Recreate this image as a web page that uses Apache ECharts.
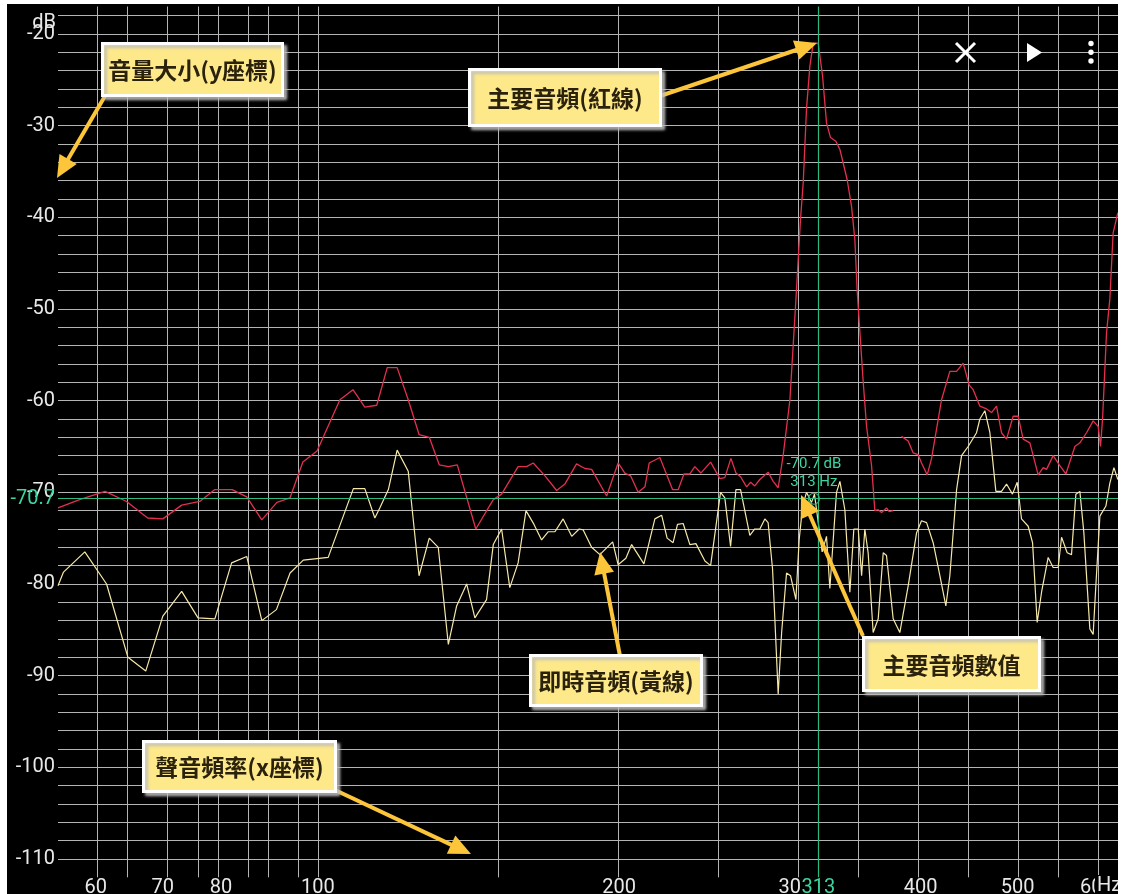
<!DOCTYPE html>
<html>
<head>
<meta charset="utf-8">
<title>頻譜</title>
<script src="https://cdn.jsdelivr.net/npm/echarts@6/dist/echarts.min.js"></script>
<style>
  html, body { margin: 0; padding: 0; background: #fff; }
  #chart { position: absolute; left: 7px; top: 4px; width: 1111px; height: 890px; background: #000; overflow: hidden; }
</style>
</head>
<body>
<div id="chart"></div>
<script>
// 主要音頻(紅線): Hz / dB, null = 斷線
const redHz = [55.0, 57.8, 61.3, 64.4, 67.6, 70.0, 73.1, 76.2, 78.9, 82.1,
  84.9, 87.9, 91.0, 93.8, 96.6, 99.8, 105.2, 108.4, 111.4, 114.5,
  117.3, 120.0, 123.1, 126.2, 129.2, 132.2, 135.0, 137.8, 143.8, 149.7,
  152.6, 158.5, 161.6, 164.1, 168.6, 173.2, 176.5, 181.3, 184.8, 187.7,
  194.3, 199.5, 202.6, 205.3, 208.9, 212.2, 214.3, 219.6, 226.1, 229.1,
  232.1, 235.3, 238.0, 241.3, 246.8, 252.1, 255.0, 258.6, 261.6, 264.4,
  268.1, 270.6, 273.2, 276.4, 281.7, 285.0, 288.3, 291.6, 296.2, 300.3,
  303.5, 305.4, 307.7, 310.1, 312.5, 316.1, 319.3, 322.2, 325.2, 329.2,
  332.3, 337.9, 341.3, 343.9, 345.7, 350.6, 353.3, 357.4, 360.1, 362.9,
  365.7, 369.9, 372.2, 375.6, 379.0,
  382.9, 388.8, 393.3, 397.8, 400.9, 406.2, 410.3, 415.0, 419.8, 427.9,
  434.6, 441.2, 447.4, 451.5, 458.5, 465.6, 471.0, 476.4, 481.9, 487.5,
  495.0, 500.7, 506.5, 514.4, 524.3, 530.4, 534.5, 542.7, 551.1, 558.8,
  570.5, 577.1, 586.0, 595.0, 601.9, 605.2, 608.0, 613.6, 618.3, 623.0,
  629.8];
const redDb = [-71.7, -70.8, -69.9, -71.0, -72.8, -72.9, -71.4, -71.0, -69.7, -69.7,
  -70.5, -73.0, -71.1, -70.6, -66.7, -65.5, -59.9, -58.8, -60.7, -60.5,
  -56.4, -56.4, -59.9, -63.7, -64.0, -67.0, -67.2, -67.0, -74.0, -70.8,
  -70.2, -67.2, -67.2, -66.8, -68.2, -69.8, -69.1, -66.9, -67.4, -67.5,
  -70.4, -66.8, -67.9, -68.2, -70.0, -69.4, -66.8, -66.2, -69.7, -69.7,
  -68.0, -68.0, -67.2, -67.9, -66.7, -68.5, -68.4, -66.3, -67.9, -68.3,
  -69.4, -68.9, -69.3, -68.6, -67.8, -68.8, -69.5, -66.0, -59.9, -49.0,
  -40.2, -36.2, -28.2, -23.5, -21.0, -21.0, -24.6, -29.7, -31.3, -31.7,
  -32.6, -35.9, -38.8, -42.4, -47.9, -58.0, -62.8, -67.1, -72.0, -71.9,
  -72.2, -71.7, -72.1, -72.0, null,
  -63.9, -64.4, -65.7, -65.9, -66.8, -68.1, -66.3, -63.1, -59.9, -56.8,
  -56.8, -55.9, -58.3, -58.8, -60.6, -60.9, -61.3, -60.6, -63.5, -64.2,
  -61.7, -61.7, -64.2, -64.6, -68.1, -67.3, -67.5, -66.0, -67.1, -68.0,
  -65.0, -64.6, -63.5, -62.2, -62.8, -65.0, -62.0, -52.6, -48.9, -41.7,
  -39.5];

// 即時音頻(黃線)
const liveHz = [55.0, 55.7, 58.5, 61.5, 64.6, 67.3, 70.0, 73.1, 75.9, 78.9,
  82.0, 84.9, 87.9, 90.9, 93.8, 96.7, 102.4, 108.5, 111.4, 114.0,
  115.3, 117.6, 120.0, 123.1, 126.2, 129.2, 131.9, 135.0, 137.6, 140.8,
  143.5, 147.4, 149.7, 152.6, 155.5, 158.5, 161.4, 164.4, 167.3, 169.9,
  172.5, 175.8, 179.3, 182.4, 184.1, 187.7, 191.3, 197.0, 199.5, 203.1,
  205.8, 211.7, 217.1, 220.5, 223.3, 226.4, 228.7, 231.7, 235.3, 238.6,
  243.6, 246.8, 252.5, 255.0, 258.4, 261.6, 264.4, 270.1, 273.2, 276.4,
  279.6, 281.7, 284.6, 286.1, 288.3, 290.6, 293.9, 296.6, 300.3, 302.6,
  305.0, 307.7, 311.3, 313.4, 319.0, 322.2, 324.7, 329.7, 332.3, 336.1,
  340.0, 343.1, 346.6, 349.3, 351.9, 354.6, 358.7, 362.9, 367.1, 369.9,
  375.6, 381.4, 388.8, 396.4, 400.9, 405.6, 411.8, 418.2, 424.0, 427.9,
  434.6, 439.6, 446.3, 455.0, 458.5, 463.8, 469.2, 475.7, 481.9, 487.5,
  494.2, 499.6, 504.6, 512.4, 517.6, 523.1, 528.4, 536.5, 542.7, 549.0,
  553.3, 560.5, 566.1, 571.8, 577.1, 582.4, 590.5, 595.0, 598.7, 604.3,
  612.7, 618.3, 624.1, 629.8];
const liveDb = [-80.2, -78.7, -76.5, -80.0, -88.0, -89.5, -83.5, -80.8, -83.7, -83.8,
  -77.7, -77.0, -84.0, -82.8, -78.8, -77.4, -77.1, -69.6, -69.6, -72.8,
  -71.7, -69.7, -65.4, -67.7, -79.1, -75.0, -76.0, -86.6, -82.4, -80.0,
  -83.7, -81.7, -75.7, -74.0, -80.4, -77.7, -72.0, -73.5, -75.2, -74.3,
  -74.3, -72.9, -74.8, -74.0, -74.1, -76.0, -76.8, -75.4, -77.9, -77.2,
  -75.7, -77.8, -72.9, -72.5, -75.0, -75.5, -73.5, -73.4, -75.7, -75.6,
  -77.5, -78.0, -70.0, -70.6, -75.9, -69.7, -69.7, -74.7, -74.0, -74.0,
  -72.9, -73.3, -78.4, -83.8, -92.0, -85.3, -78.8, -79.1, -81.7, -75.1,
  -71.5, -70.0, -71.1, -70.2, -76.5, -74.8, -80.5, -70.0, -68.8, -71.9,
  -80.9, -74.0, -74.0, -79.1, -74.0, -76.6, -85.3, -83.8, -76.6, -76.9,
  -83.8, -85.3, -80.2, -74.4, -73.1, -73.3, -75.5, -79.1, -82.4, -79.1,
  -69.7, -66.0, -65.0, -63.5, -62.0, -61.1, -63.5, -69.9, -69.9, -69.1,
  -70.2, -68.9, -72.9, -73.7, -75.5, -84.2, -80.9, -77.1, -78.2, -78.2,
  -74.9, -76.6, -76.8, -70.2, -69.9, -74.4, -84.9, -85.5, -80.2, -72.6,
  -71.5, -69.0, -67.3, -68.6];

const gridHz = [60, 65, 70, 75, 80, 85, 90, 95, 100, 150, 200, 250, 300, 350, 400, 450, 500, 550, 600];
const labelHz = [60, 70, 80, 100, 200, 300, 400, 500, 600];
const hzMin = 55, hzMax = 630;
const dbMin = -112, dbMax = -17;
const cursorHz = 313;
const cursorDb = -70.7;

const GREEN_LINE = '#2fb980';
const GREEN_TEXT = '#3ad7a2';
const ARROW = '#fcc53a';
const AXIS_TEXT = '#e8e8e8';

const chart = echarts.init(document.getElementById('chart'));

const pairs = (hz, db) => hz.map((f, i) => [Math.log10(f), db[i]]);

// 註解 (頁面座標)
const notes = [
  {text: '音量大小(y座標)', box: [101, 42, 183, 55], from: [105, 96], to: [57, 178]},
  {text: '主要音頻(紅線)', box: [468, 68, 194, 59], from: [660, 96], to: [817, 43]},
  {text: '即時音頻(黃線)', box: [529, 654, 174, 53], from: [620, 656], to: [600, 552]},
  {text: '主要音頻數值', box: [862, 636, 179, 56], from: [863, 636], to: [801, 495]},
  {text: '聲音頻率(x座標)', box: [142, 740, 195, 53], from: [335, 790], to: [471, 854]},
];

function arrow(p, q) {
  const dx = q[0] - p[0], dy = q[1] - p[1];
  const len = Math.hypot(dx, dy);
  const ux = dx / len, uy = dy / len;
  const bx = q[0] - ux * 22, by = q[1] - uy * 22;
  return [
    {type: 'line', z: 90, shape: {x1: p[0], y1: p[1], x2: bx + ux * 4, y2: by + uy * 4},
      style: {stroke: ARROW, lineWidth: 4}},
    {type: 'polygon', z: 90, shape: {points: [[q[0], q[1]], [bx - uy * 10, by + ux * 10], [bx + uy * 10, by - ux * 10]]},
      style: {fill: ARROW}},
  ];
}

const noteEls = [];
notes.forEach(n => {
  noteEls.push(...arrow(n.from, n.to));
  const [x, y, w, h] = n.box;
  noteEls.push({
    type: 'rect', z: 100,
    shape: {x: x + 1.5, y: y + 1.5, width: w - 3, height: h - 3},
    style: {fill: '#fde88a', stroke: '#fff', lineWidth: 3,
      shadowBlur: 3, shadowOffsetX: 3, shadowOffsetY: 3, shadowColor: 'rgba(190,190,190,0.9)'},
  });
  noteEls.push({
    type: 'text', z: 101, x: x + w / 2, y: y + h / 2 + 1,
    style: {text: n.text, fill: '#2a220c', fontSize: 23, fontWeight: 'bold',
      fontFamily: '"Noto Sans CJK TC"', align: 'center', verticalAlign: 'middle'},
  });
});

// 右上角圖示 + x 軸單位
const iconEls = [
  {type: 'line', z: 100, shape: {x1: 956, y1: 43, x2: 975, y2: 62}, style: {stroke: '#fff', lineWidth: 3}},
  {type: 'line', z: 100, shape: {x1: 975, y1: 43, x2: 956, y2: 62}, style: {stroke: '#fff', lineWidth: 3}},
  {type: 'polygon', z: 100, shape: {points: [[1027, 43], [1027, 62], [1042, 52.5]]}, style: {fill: '#fff'}},
  {type: 'circle', z: 100, shape: {cx: 1091, cy: 43.5, r: 2.7}, style: {fill: '#fff'}},
  {type: 'circle', z: 100, shape: {cx: 1091, cy: 52.3, r: 2.7}, style: {fill: '#fff'}},
  {type: 'circle', z: 100, shape: {cx: 1091, cy: 61, r: 2.7}, style: {fill: '#fff'}},
  {type: 'text', z: 50, x: 1095, y: 875,
    style: {text: 'Hz', fill: AXIS_TEXT, fontSize: 20, fontFamily: 'Roboto', verticalAlign: 'top',
      backgroundColor: '#000', padding: [1, 4, 2, 2]}},
];

chart.setOption({
  animation: false,
  backgroundColor: '#000',
  grid: {left: 51, right: 0, top: 2.5, bottom: 16.7, containLabel: false, outerBoundsMode: 'none'},
  xAxis: {
    type: 'value',
    min: Math.log10(hzMin),
    max: Math.log10(hzMax),
    axisLine: {show: false},
    axisTick: {show: false},
    splitLine: {show: false},
    axisLabel: {
      customValues: labelHz.map(f => Math.log10(f)),
      formatter: v => String(Math.round(Math.pow(10, v))),
      color: AXIS_TEXT, fontSize: 20, fontFamily: 'Roboto', margin: 1,
    },
  },
  yAxis: {
    type: 'value',
    min: dbMin,
    max: dbMax,
    interval: 2,
    name: 'dB',
    nameLocation: 'end',
    nameGap: -26,
    nameMoveOverlap: false,
    nameTextStyle: {color: AXIS_TEXT, fontSize: 20, fontFamily: 'Roboto', align: 'right', padding: [0, 2, 0, 0]},
    axisLine: {show: false},
    axisTick: {show: false},
    axisLabel: {
      formatter: v => (v % 10 === 0 ? String(v) : ''),
      color: AXIS_TEXT, fontSize: 20, fontFamily: 'Roboto', margin: 3,
    },
    splitLine: {show: true, showMinLine: false, showMaxLine: false, lineStyle: {color: '#b4b4b4', width: 1}},
  },
  series: [
    {
      name: '主要音頻',
      type: 'line',
      data: pairs(redHz, redDb),
      showSymbol: false,
      connectNulls: false,
      silent: true,
      lineStyle: {color: '#e3304e', width: 1.3},
      markLine: {
        silent: true, z: 1, symbol: 'none',
        label: {show: false},
        emphasis: {disabled: true},
        lineStyle: {color: '#b4b4b4', width: 1, type: 'solid'},
        data: gridHz.map(f => ({xAxis: Math.log10(f)})),
      },
    },
    {
      name: '即時音頻',
      type: 'line',
      data: pairs(liveHz, liveDb),
      showSymbol: false,
      silent: true,
      lineStyle: {color: '#f6e8a8', width: 1.2},
      markLine: {
        silent: true, symbol: 'none',
        emphasis: {disabled: true},
        lineStyle: {color: GREEN_LINE, width: 1.2, type: 'solid'},
        data: [
          {xAxis: Math.log10(cursorHz),
            label: {show: true, position: 'start', formatter: String(cursorHz), distance: 1,
              color: GREEN_TEXT, fontSize: 20, fontFamily: 'Roboto', backgroundColor: '#000', padding: [0, 1, 0, 1]}},
          {yAxis: cursorDb,
            label: {show: true, position: 'start', formatter: String(cursorDb), distance: 3,
              color: GREEN_TEXT, fontSize: 20, fontFamily: 'Roboto'}},
        ],
      },
      markPoint: {
        silent: true,
        symbol: 'circle',
        symbolSize: 11,
        itemStyle: {color: 'rgba(0,0,0,0)', borderColor: GREEN_LINE, borderWidth: 1.2},
        label: {show: true, position: 'top', distance: 1,
          formatter: cursorDb + ' dB\n' + cursorHz + ' Hz',
          color: GREEN_TEXT, fontSize: 15, lineHeight: 18, fontFamily: 'Roboto'},
        data: [{coord: [Math.log10(cursorHz), cursorDb]}],
      },
    },
  ],
  graphic: {
    elements: [
      {type: 'group', x: -7, y: -4, z: 100, children: [...noteEls, ...iconEls]},
    ],
  },
});
</script>
</body>
</html>
